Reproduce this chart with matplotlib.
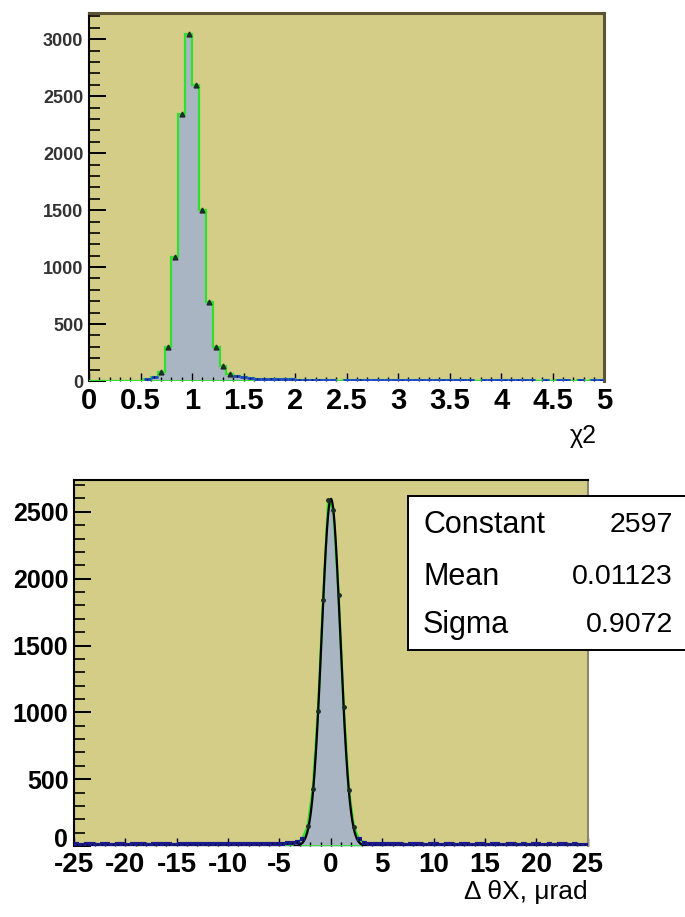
"""
Two ROOT-style histograms: track chi2 and Delta theta X with a Gaussian fit.
"""

import matplotlib
matplotlib.use("Agg")
import matplotlib.pyplot as plt
import matplotlib.transforms as mtransforms
import numpy as np
from matplotlib.patches import Rectangle
from matplotlib.ticker import FuncFormatter, MultipleLocator

# ---------------------------------------------------------------------------
# Style
# ---------------------------------------------------------------------------

FONT       = "Liberation Sans"
BG         = "#d4cd88"
FILL       = "#aab5c3"
GREEN      = "#2fe02f"
FRAME      = "#5b5334"
NAVY       = "#1a1a8c"
TAIL_BLUE  = "#2040d0"

# ---------------------------------------------------------------------------
# Data
# ---------------------------------------------------------------------------

# chi2 histogram: 75 bins on [0, 5]
CHI2_RANGE  = (0.0, 5.0)
CHI2_COUNTS = [
    0, 0, 0, 0, 0, 0, 0, 0, 15, 35,
    80, 300, 1090, 2340, 3050, 2600, 1500, 690, 300, 130,
    60, 45, 35, 25, 20, 22, 18, 15, 16, 14,
    12, 13, 11, 12, 10, 9, 0, 10, 9, 11,
    8, 10, 9, 8, 10, 7, 9, 8, 7, 9,
    8, 6, 7, 8, 6, 5, 0, 7, 6, 8,
    5, 6, 7, 5, 6, 0, 5, 0, 8, 5,
    0, 6, 0, 5, 6,
]

# Delta theta X histogram: 100 bins on [-25, 25]
DTX_RANGE  = (-25.0, 25.0)
DTX_COUNTS = [
    12, 11, 13, 12, 10, 12, 13, 11, 12, 14,
    11, 12, 13, 12, 11, 13, 12, 12, 14, 11,
    13, 12, 12, 14, 13, 12, 13, 14, 12, 13,
    14, 13, 15, 14, 13, 15, 16, 15, 17, 16,
    18, 20, 22, 30, 55, 150, 430, 1010, 1840, 2590,
    2510, 1880, 1040, 420, 140, 50, 25, 18, 15, 14,
    13, 12, 13, 12, 11, 12, 13, 12, 11, 12,
    13, 11, 12, 12, 11, 13, 12, 11, 12, 13,
    11, 12, 12, 11, 13, 12, 11, 12, 11, 12,
    13, 11, 12, 11, 12, 13, 11, 12, 11, 10,
]

FIT_NAMES  = ["Constant", "Mean", "Sigma"]
FIT_VALUES = [2597, 0.01123, 0.9072]
FIT_TEXT   = ["2597", "0.01123", "0.9072"]
FIT_RANGE  = (-3.5, 3.5)


# ---------------------------------------------------------------------------
# Helpers
# ---------------------------------------------------------------------------

def style_axes(ax, xmaj, xmin, ymaj, ymin, ylab_size, xlab_size, ylab_color,
               yfmt=None):
    ax.set_facecolor(BG)
    ax.xaxis.set_major_locator(MultipleLocator(xmaj))
    ax.xaxis.set_minor_locator(MultipleLocator(xmin))
    ax.yaxis.set_major_locator(MultipleLocator(ymaj))
    ax.yaxis.set_minor_locator(MultipleLocator(ymin))
    ax.xaxis.set_major_formatter(FuncFormatter(lambda v, p: f"{v:g}"))
    if yfmt is not None:
        ax.yaxis.set_major_formatter(FuncFormatter(yfmt))
    ax.tick_params(axis="y", which="major", direction="in", length=12, width=1.4,
                   pad=4, labelsize=ylab_size, labelcolor=ylab_color)
    ax.tick_params(axis="y", which="minor", direction="in", length=8, width=1.2)
    ax.tick_params(axis="x", which="major", direction="in", length=6, width=1.0,
                   pad=4, labelsize=xlab_size)
    ax.tick_params(axis="x", which="minor", direction="in", length=3, width=1.0)
    for lab in ax.get_xticklabels() + ax.get_yticklabels():
        lab.set_fontfamily(FONT)
        lab.set_fontweight("bold")
    ax.spines["bottom"].set_visible(False)
    ax.spines["left"].set_color("black")
    ax.spines["left"].set_linewidth(1.5)


def draw_tail(ax, centers, counts, half_w, hcolor, lw):
    sel = (counts > 0) & (counts < 60)
    c, n = centers[sel], counts[sel]
    err = np.sqrt(n)
    ax.hlines(n, c - half_w, c + half_w, color=hcolor, lw=lw, zorder=4)
    ax.vlines(c, n - err, n + err, color="black", lw=1.0, zorder=5)


# ---------------------------------------------------------------------------
# Plots
# ---------------------------------------------------------------------------

def plot_chi2(fig):
    ax = fig.add_axes([0.130, 0.5845, 0.752, 0.401])
    counts = np.array(CHI2_COUNTS, dtype=float)
    edges = np.linspace(*CHI2_RANGE, len(counts) + 1)
    centers = 0.5 * (edges[:-1] + edges[1:])
    half_w = 0.5 * (edges[1] - edges[0])

    ax.fill_between(edges, np.r_[counts, counts[-1]], step="post", color=FILL, lw=0)
    ax.stairs(counts, edges, color=GREEN, lw=1.6, zorder=3)
    ax.axhline(0, color=GREEN, lw=2, zorder=3)

    big = counts >= 60
    ax.plot(centers[big], counts[big], "^", color="#1c2e24", ms=3.5, zorder=5)
    draw_tail(ax, centers, counts, half_w, TAIL_BLUE, 2.0)

    ax.set_xlim(*CHI2_RANGE)
    ax.set_ylim(0, 3228)
    style_axes(ax, 0.5, 0.1, 500, 100, 13, 21, "#333333")
    for side in ("top", "right"):
        ax.spines[side].set_color(FRAME)
        ax.spines[side].set_linewidth(2.2)

    fig.text(597 / 685, 1 - 443 / 917, "χ2", ha="right", va="baseline",
             fontsize=18, fontfamily=FONT)


def plot_dtx(fig):
    ax = fig.add_axes([0.108, 0.0774, 0.750, 0.399])
    counts = np.array(DTX_COUNTS, dtype=float)
    edges = np.linspace(*DTX_RANGE, len(counts) + 1)
    centers = 0.5 * (edges[:-1] + edges[1:])
    half_w = 0.5 * (edges[1] - edges[0])

    ax.fill_between(centers, counts, color=FILL, lw=0)
    ax.plot(centers, counts, color=GREEN, lw=1.8, zorder=3)
    ax.axhline(0, color=GREEN, lw=2, zorder=3)

    const, mean, sigma = FIT_VALUES
    xf = np.linspace(*FIT_RANGE, 300)
    ax.plot(xf, const * np.exp(-0.5 * ((xf - mean) / sigma) ** 2),
            color="black", lw=1.6, zorder=4)

    big = counts >= 60
    ax.plot(centers[big], counts[big], "o", color="#1c2e24", ms=2.5, zorder=5)
    draw_tail(ax, centers, counts, half_w, NAVY, 3.0)

    ax.set_xlim(*DTX_RANGE)
    ax.set_ylim(0, 2737)
    # the "0" label sits a little above the axis, clear of the "-25" below it
    style_axes(ax, 5, 1, 500, 100, 18, 20, "black",
               yfmt=lambda v, p: "" if v == 0 else f"{v:g}")
    zero_tr = mtransforms.offset_copy(
        mtransforms.blended_transform_factory(ax.transAxes, ax.transData),
        fig=fig, x=-6, y=6, units="dots")
    ax.text(0, 0, "0", transform=zero_tr, ha="right", va="center",
            fontsize=18, fontweight="bold", fontfamily=FONT)
    ax.spines["top"].set_color("black")
    ax.spines["top"].set_linewidth(1.5)
    ax.spines["right"].set_color("#8a8670")
    ax.spines["right"].set_linewidth(1.5)

    fig.text(588 / 685, 1 - 899 / 917, "Δ θX, μrad", ha="right", va="baseline",
             fontsize=19, fontfamily=FONT)

    # fit statistics box, sticks out past the frame like the ROOT pave
    box = Rectangle((408 / 685, 1 - 650 / 917), 0.42, 154 / 917,
                    transform=fig.transFigure, facecolor="white",
                    edgecolor="black", lw=1.4, zorder=10)
    fig.patches.append(box)
    rows_y = [525, 577, 625]
    for name, val, y in zip(FIT_NAMES, FIT_TEXT, rows_y):
        fig.text(423 / 685, 1 - y / 917, name, ha="left", va="center",
                 fontsize=22, fontfamily=FONT, zorder=11)
        fig.text(673 / 685, 1 - y / 917, val, ha="right", va="center",
                 fontsize=20.5, fontfamily=FONT, zorder=11)


# ---------------------------------------------------------------------------
# Main
# ---------------------------------------------------------------------------

def main():
    fig = plt.figure(figsize=(6.85, 9.17), dpi=100)
    fig.patch.set_facecolor("white")
    plot_chi2(fig)
    plot_dtx(fig)
    fig.savefig("out.png", dpi=100)
    plt.close(fig)


if __name__ == "__main__":
    main()
